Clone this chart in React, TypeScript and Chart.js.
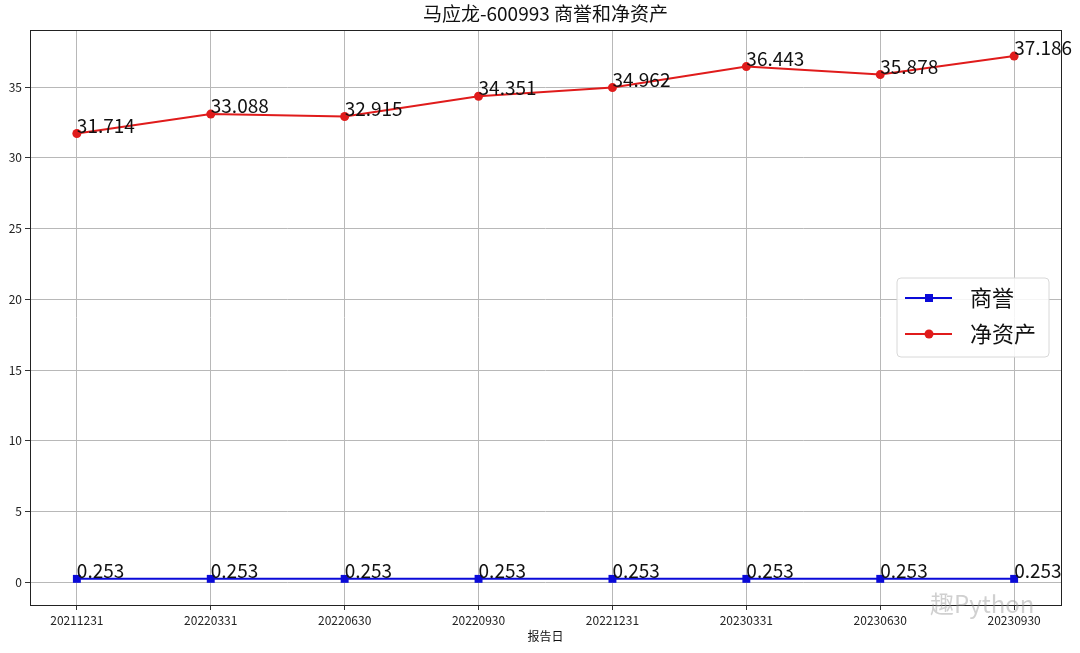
import React, { useEffect, useRef } from "react";
import { Chart, registerables } from "chart.js";

Chart.register(...registerables);

const TITLE = "马应龙-600993 商誉和净资产";
const X_TITLE = "报告日";
const categories = ["20211231", "20220331", "20220630", "20220930", "20221231", "20230331", "20230630", "20230930"];
const goodwill = [0.253, 0.253, 0.253, 0.253, 0.253, 0.253, 0.253, 0.253];
const netAssets = [31.714, 33.088, 32.915, 34.351, 34.962, 36.443, 35.878, 37.186];
const yTicks = [0, 5, 10, 15, 20, 25, 30, 35];
const seriesNames = ["商誉", "净资产"];

const BLUE = "#0a0ad8";
const RED = "#e01b1b";
const FONT = "'Noto Sans CJK SC', 'Noto Sans', sans-serif";

const decorPlugin = {
  id: "decor",
  afterDraw(chart: any) {
    const { ctx, chartArea } = chart;
    const { left, right, top, bottom } = chartArea;
    ctx.save();
    // frame
    ctx.strokeStyle = "#222";
    ctx.lineWidth = 1;
    ctx.strokeRect(Math.round(left) + 0.5, Math.round(top) + 0.5, Math.round(right - left), Math.round(bottom - top));
    // title
    ctx.fillStyle = "#111";
    ctx.font = `19px ${FONT}`;
    ctx.textAlign = "center";
    ctx.textBaseline = "middle";
    ctx.fillText(TITLE, (left + right) / 2, 14);
    // x title
    ctx.font = `12px ${FONT}`;
    ctx.fillText(X_TITLE, (left + right) / 2, 636);
    // data labels
    ctx.font = `19px ${FONT}`;
    ctx.textAlign = "left";
    ctx.textBaseline = "alphabetic";
    ctx.fillStyle = "#111";
    chart.data.datasets.forEach((ds: any, di: number) => {
      const meta = chart.getDatasetMeta(di);
      meta.data.forEach((pt: any, i: number) => {
        const v = ds.data[i];
        const num = typeof v === "number" ? v : v.y;
        ctx.fillText(num.toFixed(3), pt.x, pt.y - 1);
      });
    });
    // legend
    const lx = 897, ly = 278, lw = 152, lh = 79;
    ctx.beginPath();
    const r = 4;
    ctx.moveTo(lx + r, ly);
    ctx.arcTo(lx + lw, ly, lx + lw, ly + lh, r);
    ctx.arcTo(lx + lw, ly + lh, lx, ly + lh, r);
    ctx.arcTo(lx, ly + lh, lx, ly, r);
    ctx.arcTo(lx, ly, lx + lw, ly, r);
    ctx.closePath();
    ctx.fillStyle = "rgba(255,255,255,0.85)";
    ctx.fill();
    ctx.strokeStyle = "#d8d8d8";
    ctx.lineWidth = 1;
    ctx.stroke();
    const entries = [
      { name: seriesNames[0], color: BLUE, shape: "rect", y: 298 },
      { name: seriesNames[1], color: RED, shape: "circle", y: 334 },
    ];
    entries.forEach((e) => {
      ctx.strokeStyle = e.color;
      ctx.lineWidth = 2;
      ctx.beginPath();
      ctx.moveTo(905, e.y);
      ctx.lineTo(952, e.y);
      ctx.stroke();
      ctx.fillStyle = e.color;
      if (e.shape === "rect") {
        ctx.fillRect(925, e.y - 4, 8, 8);
      } else {
        ctx.beginPath();
        ctx.arc(929, e.y, 4.5, 0, Math.PI * 2);
        ctx.fill();
      }
      ctx.fillStyle = "#111";
      ctx.font = `22px ${FONT}`;
      ctx.textAlign = "left";
      ctx.textBaseline = "middle";
      ctx.fillText(e.name, 970, e.y);
    });
    // watermark
    ctx.font = `24px ${FONT}`;
    ctx.fillStyle = "rgba(150,150,150,0.45)";
    ctx.textAlign = "left";
    ctx.textBaseline = "middle";
    ctx.fillText("趣Python", 930, 604);
    ctx.restore();
  },
};

export default function App() {
  const ref = useRef<HTMLCanvasElement>(null);
  useEffect(() => {
    document.body.style.margin = "0";
    const chart = new Chart(ref.current as HTMLCanvasElement, {
      type: "line",
      data: {
        datasets: [
          {
            label: seriesNames[0],
            data: goodwill.map((v, i) => ({ x: i, y: v })) as any,
            borderColor: BLUE,
            backgroundColor: BLUE,
            pointStyle: "rect",
            pointRadius: 5.6,
            pointBorderWidth: 0,
            borderWidth: 2,
          },
          {
            label: seriesNames[1],
            data: netAssets.map((v, i) => ({ x: i, y: v })) as any,
            borderColor: RED,
            backgroundColor: RED,
            pointStyle: "circle",
            pointRadius: 4.5,
            pointBorderWidth: 0,
            borderWidth: 2,
          },
        ],
      },
      options: {
        animation: false,
        responsive: false,
        devicePixelRatio: 1,
        layout: { padding: { top: 30, right: 19, left: 0, bottom: 0 } },
        plugins: { legend: { display: false }, tooltip: { enabled: false }, title: { display: false } },
        scales: {
          x: {
            type: "linear",
            min: -0.35,
            max: 7.35,
            afterBuildTicks: (s: any) => {
              s.ticks = categories.map((_, i) => ({ value: i }));
            },
            afterFit: (s: any) => {
              s.height = 48;
            },
            ticks: {
              autoSkip: false,
              maxRotation: 0,
              padding: 3,
              color: "#222",
              font: { family: FONT, size: 12 },
              callback: (v: any) => categories[v] ?? "",
            },
            grid: { color: "#b8b8b8", lineWidth: 1, tickLength: 5, tickColor: "#333" },
            border: { display: false },
          },
          y: {
            min: -1.594,
            max: 39.03,
            afterBuildTicks: (s: any) => {
              s.ticks = yTicks.map((v) => ({ value: v }));
            },
            afterFit: (s: any) => {
              s.width = 30;
            },
            ticks: {
              padding: 3,
              color: "#222",
              font: { family: FONT, size: 12 },
            },
            grid: { color: "#b8b8b8", lineWidth: 1, tickLength: 5, tickColor: "#333" },
            border: { display: false },
          },
        },
      },
      plugins: [decorPlugin],
    } as any);
    return () => chart.destroy();
  }, []);
  return <canvas ref={ref} width={1080} height={653} style={{ display: "block" }} />;
}
